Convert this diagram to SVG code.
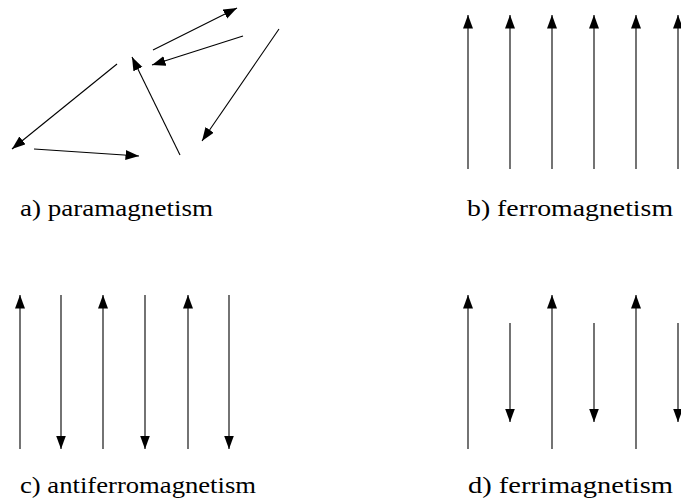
<svg xmlns="http://www.w3.org/2000/svg" width="681" height="504" viewBox="0 0 681 504">
  <style>
    .spin { stroke: #000; stroke-width: 1.1; fill: none; marker-end: url(#head); }
    .label { font-family: "Liberation Serif", serif; font-size: 24px; fill: #000; }
  </style>
  <defs>
    <marker id="head" markerUnits="userSpaceOnUse" markerWidth="15" markerHeight="11" refX="13.5" refY="5" orient="auto" viewBox="0 0 15 11">
      <path d="M0,0 L13.5,5 L0,10 Z" fill="#000"/>
    </marker>
  </defs>
  <rect width="681" height="504" fill="#fff"/>

  <g id="paramagnetism">
    <g id="para-spins">
      <line class="spin" x1="153" y1="50" x2="237" y2="8"/>
      <line class="spin" x1="243" y1="36" x2="152" y2="65"/>
      <line class="spin" x1="117" y1="64" x2="12" y2="149"/>
      <line class="spin" x1="34" y1="149" x2="139" y2="156"/>
      <line class="spin" x1="180" y1="155" x2="132" y2="57"/>
      <line class="spin" x1="279" y1="29" x2="202" y2="141"/>
    </g>
    <text class="label" x="20" y="216" textLength="193" lengthAdjust="spacingAndGlyphs">a) paramagnetism</text>
  </g>

  <g id="ferromagnetism">
    <g id="ferro-spins">
      <line class="spin" x1="468" y1="169" x2="468" y2="15"/>
      <line class="spin" x1="510" y1="169" x2="510" y2="15"/>
      <line class="spin" x1="552" y1="169" x2="552" y2="15"/>
      <line class="spin" x1="594" y1="169" x2="594" y2="15"/>
      <line class="spin" x1="636" y1="169" x2="636" y2="15"/>
      <line class="spin" x1="678" y1="169" x2="678" y2="15"/>
    </g>
    <text class="label" x="467" y="216" textLength="206" lengthAdjust="spacingAndGlyphs">b) ferromagnetism</text>
  </g>

  <g id="antiferromagnetism">
    <g id="antiferro-spins">
      <line class="spin" x1="20" y1="449" x2="20" y2="295"/>
      <line class="spin" x1="61" y1="295" x2="61" y2="449"/>
      <line class="spin" x1="103" y1="449" x2="103" y2="295"/>
      <line class="spin" x1="145" y1="295" x2="145" y2="449"/>
      <line class="spin" x1="188" y1="449" x2="188" y2="295"/>
      <line class="spin" x1="229" y1="295" x2="229" y2="449"/>
    </g>
    <text class="label" x="20" y="493" textLength="236" lengthAdjust="spacingAndGlyphs">c) antiferromagnetism</text>
  </g>

  <g id="ferrimagnetism">
    <g id="ferri-spins">
      <line class="spin" x1="468" y1="449" x2="468" y2="295"/>
      <line class="spin" x1="510" y1="323" x2="510" y2="422"/>
      <line class="spin" x1="552" y1="449" x2="552" y2="295"/>
      <line class="spin" x1="594" y1="323" x2="594" y2="422"/>
      <line class="spin" x1="636" y1="449" x2="636" y2="295"/>
      <line class="spin" x1="678" y1="323" x2="678" y2="422"/>
    </g>
    <text class="label" x="468" y="493" textLength="205" lengthAdjust="spacingAndGlyphs">d) ferrimagnetism</text>
  </g>
</svg>
